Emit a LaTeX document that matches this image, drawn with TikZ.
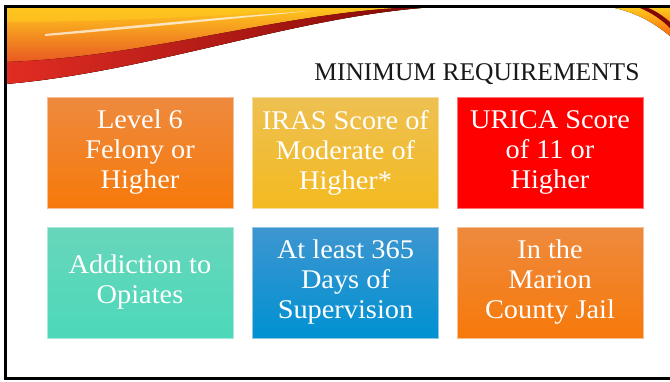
\documentclass[tikz,border=0pt]{standalone}
\usepackage{fontspec}
\setmainfont{Liberation Serif}
\newfontfamily\boxfont{Liberation Serif}[FakeStretch=1.05]
\definecolor{O1}{RGB}{238,138,62}
\definecolor{O2}{RGB}{247,121,10}
\definecolor{Y1}{RGB}{238,192,82}
\definecolor{Y2}{RGB}{243,186,32}
\definecolor{R1}{RGB}{255,0,0}
\definecolor{T1}{RGB}{104,214,186}
\definecolor{T2}{RGB}{76,216,186}
\definecolor{B1}{RGB}{62,150,208}
\definecolor{B2}{RGB}{0,145,210}
\definecolor{S1}{RGB}{255,200,30}
\definecolor{S2}{RGB}{250,105,15}
\definecolor{S3}{RGB}{225,45,35}
\definecolor{S4}{RGB}{130,8,8}
\definecolor{ink}{RGB}{25,25,25}

\begin{document}
\begin{tikzpicture}[x=1pt,y=-1pt,
    reqbox/.style={minimum width=186pt,minimum height=111pt,inner sep=0pt,
      align=center,text=white,line width=1pt,
      font=\boxfont\fontsize{27}{30}\selectfont}]
  \useasboundingbox (0,0) rectangle (670,381);
  \clip (0,0) rectangle (670,381);
  \fill[white] (0,0) rectangle (670,381);
  % swoosh, top left
  \fill[top color=S1,middle color=S2,bottom color=S3] (5,8) -- (435,7) .. controls (300,15) and (150,72) .. (5,84) -- cycle;
  \fill[S1,opacity=0.6] (5,8) -- (330,8) .. controls (250,14) and (120,22) .. (5,22) -- cycle;
  \fill[left color=S3,right color=S4] (5,84) .. controls (150,72) and (300,15) .. (435,7) -- (400,8) .. controls (280,14) and (140,58) .. (5,62) -- cycle;
  \fill[white,opacity=0.7] (45,34) .. controls (120,27) and (220,17) .. (310,11) .. controls (220,20) and (120,30) .. (45,36) -- cycle;
  % swoosh, top right
  \fill[top color=S1,bottom color=S2] (615,8) -- (670,8) -- (670,36) .. controls (655,24) and (640,14) .. (615,8) -- cycle;
  \fill[S4] (640,8) .. controls (652,13) and (662,20) .. (670,28) -- (670,22) .. controls (662,15) and (654,10) .. (648,8) -- cycle;
  \draw[line width=3pt] (5.5,6.5) rectangle (700,378.5);
  \node[anchor=base east,text=ink,font=\fontsize{25.5}{30}\selectfont] (ttl) at (643,80) {MINIMUM REQUIREMENTS};
  \node[reqbox,top color=O1,bottom color=O2,draw=O1!55!white] (lvl) at (140,152.5) {Level 6\\Felony or\\Higher};
  \node[reqbox,top color=Y1,bottom color=Y2,draw=Y1!55!white] (iras) at (345.5,152.5) {IRAS Score of\\Moderate of\\Higher*};
  \node[reqbox,fill=R1,draw=R1!55!white] (urica) at (550,152.5) {URICA Score\\of 11 or\\Higher};
  \node[reqbox,top color=T1,bottom color=T2,draw=T1!55!white] (opi) at (140,282.5) {Addiction to\\Opiates};
  \node[reqbox,top color=B1,bottom color=B2,draw=B1!55!white] (days) at (345.5,282.5) {At least 365\\Days of\\Supervision};
  \node[reqbox,top color=O1,bottom color=O2,draw=O1!55!white] (jail) at (550,282.5) {In the\\Marion\\County Jail};
\end{tikzpicture}
\end{document}
